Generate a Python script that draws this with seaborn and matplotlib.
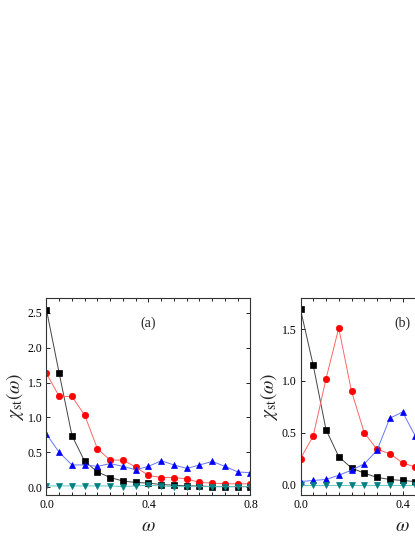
import matplotlib
matplotlib.use('Agg')
import matplotlib.pyplot as plt
import seaborn as sns
import numpy as np
from matplotlib.ticker import MultipleLocator, FixedFormatter

# omega grid (visible part of both panels)
omega_a = [0.0, 0.05, 0.1, 0.15, 0.2, 0.25, 0.3, 0.35, 0.4, 0.45, 0.5,
           0.55, 0.6, 0.65, 0.7, 0.75, 0.8]
omega_b = [0.0, 0.05, 0.1, 0.15, 0.2, 0.25, 0.3, 0.35, 0.4, 0.45]

# panel (a)
black_a = [2.54, 1.63, 0.74, 0.37, 0.22, 0.14, 0.09, 0.07, 0.06, 0.04, 0.03,
           0.02, 0.02, 0.01, 0.01, 0.01, 0.01]
red_a = [1.63, 1.30, 1.30, 1.03, 0.55, 0.39, 0.39, 0.29, 0.17, 0.14, 0.14,
         0.12, 0.07, 0.06, 0.05, 0.05, 0.05]
blue_a = [0.76, 0.50, 0.32, 0.32, 0.30, 0.34, 0.30, 0.25, 0.30, 0.38, 0.32,
          0.27, 0.32, 0.37, 0.30, 0.22, 0.21]
teal_a = [0.02, 0.02, 0.02, 0.02, 0.02, 0.02, 0.01, 0.02, 0.03, 0.02, 0.01,
          0.01, 0.01, 0.01, 0.01, 0.01, 0.01]

# panel (b)
black_b = [1.69, 1.15, 0.53, 0.27, 0.16, 0.11, 0.07, 0.05, 0.04, 0.03]
red_b = [0.25, 0.47, 1.02, 1.51, 0.90, 0.50, 0.34, 0.30, 0.21, 0.17]
blue_b = [0.03, 0.04, 0.05, 0.09, 0.14, 0.20, 0.33, 0.64, 0.70, 0.47]
teal_b = [0.0, 0.0, 0.0, 0.0, 0.0, 0.0, 0.0, 0.0, 0.0, 0.0]

sns.set_style('ticks')
plt.rcParams['font.family'] = ['Liberation Serif', 'DejaVu Serif']
plt.rcParams['mathtext.fontset'] = 'stix'

# (marker, marker colour, line colour, marker size)
styles = [
    ('s', 'black', '#444444', 4.0),
    ('o', 'red', '#ff6666', 4.6),
    ('^', 'blue', '#6677ff', 4.8),
    ('v', '#008080', '#66c8c8', 4.8),
]

fig = plt.figure(figsize=(4.15, 5.37), dpi=100)
ax_a = fig.add_axes([0.112, 0.0782, 0.4916, 0.3669])
ax_b = fig.add_axes([0.7241, 0.0782, 0.4916, 0.3669])


def draw_panel(ax, x, series, ylim, label, xticklabels):
    for y, (mk, mc, lc, ms) in zip(series, styles):
        sns.lineplot(x=x, y=y, ax=ax, color=lc, lw=0.7, marker=mk,
                     markersize=ms, markerfacecolor=mc, markeredgecolor=mc,
                     markeredgewidth=0.5, estimator=None, sort=False)
    ax.set_xlim(0, 0.8)
    ax.set_ylim(*ylim)
    ax.set_xticks([0.0, 0.4, 0.8])
    ax.set_xticklabels(xticklabels)
    ax.xaxis.set_minor_locator(MultipleLocator(0.05))
    ax.yaxis.set_major_locator(MultipleLocator(0.5))
    ax.yaxis.set_major_formatter(matplotlib.ticker.FormatStrFormatter('%.1f'))
    ax.tick_params(which='both', direction='in', top=True, right=True,
                   labelsize=8.5, width=0.7, colors='#222222',
                   labelcolor='black')
    ax.tick_params(which='major', length=3, pad=3)
    ax.tick_params(which='minor', length=2)
    for sp in ax.spines.values():
        sp.set_linewidth(0.8)
        sp.set_color('#333333')
    ax.set_xlabel(r'$\omega$', fontsize=14, labelpad=5)
    ax.set_ylabel(r'$\chi_{\rm st}(\omega)$', fontsize=14, labelpad=1)
    ax.text(0.5, 0.87, label, transform=ax.transAxes, fontsize=10,
            ha='center', va='center')


draw_panel(ax_a, omega_a, [black_a, red_a, blue_a, teal_a], (-0.11, 2.71),
           '(a)', ['0.0', '0.4', '0.8'])
# the right part of panel (b) lies outside the picture
draw_panel(ax_b, omega_b, [black_b, red_b, blue_b, teal_b], (-0.1, 1.8),
           '(b)', ['0.0', '0.4', ''])

fig.savefig('out.png', dpi=100, facecolor='white')
plt.close(fig)
